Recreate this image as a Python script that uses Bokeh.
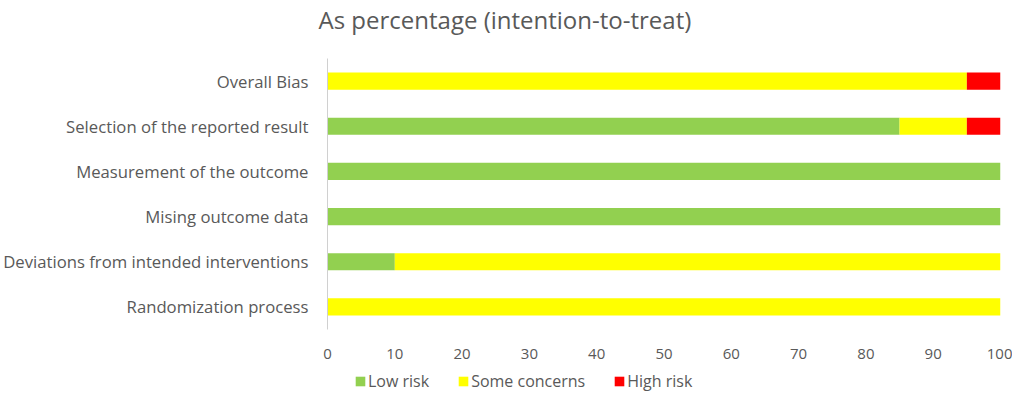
from bokeh.plotting import figure
from bokeh.models import Legend, LegendItem, FactorRange
from bokeh.layouts import column
from bokeh.embed import file_html
from bokeh.resources import INLINE

title_text = "As percentage (intention-to-treat)"
domains = ["Randomization process", "Deviations from intended interventions",
           "Mising outcome data", "Measurement of the outcome",
           "Selection of the reported result", "Overall Bias"]
low_risk = [0, 10, 100, 100, 85, 0]
some_concerns = [100, 90, 0, 0, 10, 95]
high_risk = [0, 0, 0, 0, 5, 5]
series = ["low_risk", "some_concerns", "high_risk"]
series_labels = ["Low risk", "Some concerns", "High risk"]
colors = ["#92D050", "#FFFF00", "#FF0000"]
x_ticks = [0, 10, 20, 30, 40, 50, 60, 70, 80, 90, 100]

FONT = "Open Sans"
TXT = "#595959"
W = 1012

data = dict(domains=domains, low_risk=low_risk, some_concerns=some_concerns,
            high_risk=high_risk)

# title strip
tf = figure(width=W, height=50, output_backend="svg", toolbar_location=None,
            min_border_left=0, min_border_right=0, min_border_top=0,
            min_border_bottom=0, title=title_text)
tf.axis.visible = False
tf.grid.visible = False
tf.outline_line_color = None
tf.title.text_font = FONT
tf.title.text_font_size = "24px"
tf.title.text_font_style = "normal"
tf.title.text_color = TXT
tf.title.align = "left"
tf.title.offset = -9
tf.title.standoff = 0

# main chart
p = figure(width=W, height=320, y_range=FactorRange(*domains, range_padding=0),
           x_range=(0, 100), output_backend="svg", toolbar_location=None,
           min_border_left=327, min_border_right=12, min_border_top=8,
           min_border_bottom=41)

rs = p.hbar_stack(series, y="domains", height=0.38, source=data,
                  color=colors, line_color=None)

p.xgrid.visible = False
p.ygrid.visible = False
p.outline_line_color = None

p.xaxis.ticker = x_ticks
p.xaxis.axis_line_color = None
p.xaxis.major_tick_line_color = None
p.xaxis.minor_tick_line_color = None
p.xaxis.major_label_text_font = FONT
p.xaxis.major_label_text_font_size = "15px"
p.xaxis.major_label_text_color = TXT
p.xaxis.major_label_standoff = 13

p.yaxis.axis_line_color = "#D0D0D0"
p.yaxis.major_tick_line_color = None
p.yaxis.minor_tick_line_color = None
p.yaxis.major_label_text_font = FONT
p.yaxis.major_label_text_font_size = "16.7px"
p.yaxis.major_label_text_color = TXT
p.yaxis.major_label_standoff = 13

# legend strip below the chart (legend proxies: same stacks, zero bar height)
lg = figure(width=W, height=23, x_range=(0, 100),
            y_range=FactorRange(*domains, range_padding=0),
            output_backend="svg", toolbar_location=None,
            min_border_left=0, min_border_right=0, min_border_top=0,
            min_border_bottom=0)
lg.axis.visible = False
lg.grid.visible = False
lg.outline_line_color = None
lrs = lg.hbar_stack(series, y="domains", height=0, source=data,
                    color=colors, line_color=None)
legend = Legend(items=[LegendItem(label=lab, renderers=[r]) for lab, r in zip(series_labels, lrs)],
                orientation="horizontal", location=(27, 1), margin=0,
                glyph_width=12, glyph_height=12, label_height=12,
                label_text_font=FONT, label_text_font_size="16px",
                label_text_color=TXT, padding=0, spacing=28, label_standoff=2,
                border_line_color=None, background_fill_alpha=0)
lg.add_layout(legend, "center")

open("out.html", "w").write(file_html(column(tf, p, lg, spacing=0), INLINE))
